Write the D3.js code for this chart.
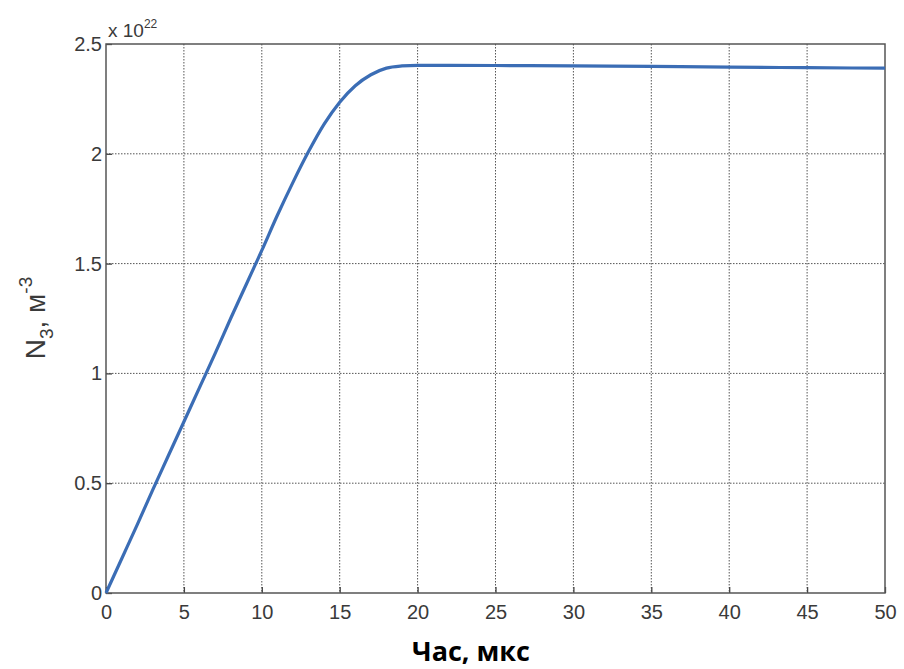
<!DOCTYPE html>
<html>
<head>
<meta charset="utf-8">
<script src="https://cdn.jsdelivr.net/npm/d3@7"></script>
<style>
  body { margin: 0; background: #fff; }
  text { font-family: "Liberation Sans", Arial, sans-serif; }
</style>
</head>
<body>
<script>
// time, mks
var times = [0, 1, 2, 3, 4, 5, 6, 7, 8, 9, 10, 11, 12, 13, 14, 15, 16, 17, 18, 19, 20, 25, 30, 35, 40, 45, 50];
// N3, x 1e22 m^-3
var values = [0, 0.155, 0.31, 0.47, 0.625, 0.78, 0.935, 1.09, 1.25, 1.405, 1.56, 1.72, 1.87, 2.01, 2.135, 2.235, 2.31, 2.36, 2.39, 2.40, 2.403, 2.402, 2.40, 2.398, 2.395, 2.392, 2.39];
var xTicks = [0, 5, 10, 15, 20, 25, 30, 35, 40, 45, 50];
var yTicks = [0, 0.5, 1, 1.5, 2, 2.5];
var yTickLabels = ["0", "0.5", "1", "1.5", "2", "2.5"];

var W = 904, H = 669;
var margin = {top: 44, right: 20, bottom: 76, left: 106};
var width = 885 - margin.left,
    height = 593 - margin.top;

var svg = d3.select("body").append("svg")
  .attr("width", W)
  .attr("height", H);

var g = svg.append("g")
  .attr("transform", "translate(" + margin.left + "," + margin.top + ")");

var x = d3.scaleLinear().domain([0, 50]).range([0, width]);
var y = d3.scaleLinear().domain([0, 2.5]).range([height, 0]);

// grid
g.append("g").selectAll("line").data(xTicks.slice(1, -1)).enter()
  .append("line")
  .attr("x1", d => x(d)).attr("x2", d => x(d))
  .attr("y1", 0).attr("y2", height)
  .style("stroke", "#555")
  .style("stroke-width", 1)
  .style("stroke-dasharray", "1.5,1.5");

g.append("g").selectAll("line").data(yTicks.slice(1, -1)).enter()
  .append("line")
  .attr("x1", 0).attr("x2", width)
  .attr("y1", d => y(d)).attr("y2", d => y(d))
  .style("stroke", "#555")
  .style("stroke-width", 1)
  .style("stroke-dasharray", "1.5,1.5");

// axes
var xAxis = d3.axisBottom(x).tickValues(xTicks).tickSize(-6).tickPadding(12).tickFormat(d3.format("d"));
var yAxis = d3.axisLeft(y).tickValues(yTicks).tickSize(-6).tickPadding(4)
  .tickFormat((d, i) => yTickLabels[i]);

var gx = g.append("g")
  .attr("transform", "translate(0," + height + ")")
  .call(xAxis);
var gy = g.append("g").call(yAxis);

[gx, gy].forEach(a => {
  a.select(".domain").remove();
  a.selectAll("line").style("stroke", "#444").style("stroke-width", 1.3);
  a.selectAll("text")
    .style("font-size", "20px")
    .style("fill", "#3a3a3a")
    .style("font-family", "'Liberation Sans Narrow', 'Liberation Sans', Arial, sans-serif");
});

// frame
g.append("rect")
  .attr("width", width).attr("height", height)
  .style("fill", "none")
  .style("stroke", "#555")
  .style("stroke-width", 1.5);

// curve
var line = d3.line()
  .curve(d3.curveMonotoneX)
  .x((d, i) => x(times[i]))
  .y(d => y(d));

g.append("path")
  .datum(values)
  .style("fill", "none")
  .style("stroke", "#3b6db5")
  .style("stroke-width", 3.2)
  .attr("d", line);

// exponent
var ex = g.append("text")
  .attr("x", 2).attr("y", -7)
  .style("font-size", "19px")
  .style("fill", "#3a3a3a");
ex.append("tspan").text("x 10");
ex.append("tspan").attr("dy", -9).style("font-size", "12px").text("22");

// y label
var yl = svg.append("text")
  .attr("transform", "translate(45,318) rotate(-90)")
  .attr("text-anchor", "middle")
  .style("font-size", "28px")
  .style("fill", "#3a3a3a");
yl.append("tspan").text("N");
yl.append("tspan").attr("dy", 8).style("font-size", "19px").text("3");
yl.append("tspan").attr("dy", -8).text(", м");
yl.append("tspan").attr("dy", -13).style("font-size", "19px").text("-3");

// x label
svg.append("text")
  .attr("x", 471).attr("y", 661)
  .attr("text-anchor", "middle")
  .style("font-family", "'Open Sans', sans-serif")
  .style("font-weight", 700)
  .style("font-size", "27px")
  .style("fill", "#000")
  .text("Час, мкс");
</script>
</body>
</html>
